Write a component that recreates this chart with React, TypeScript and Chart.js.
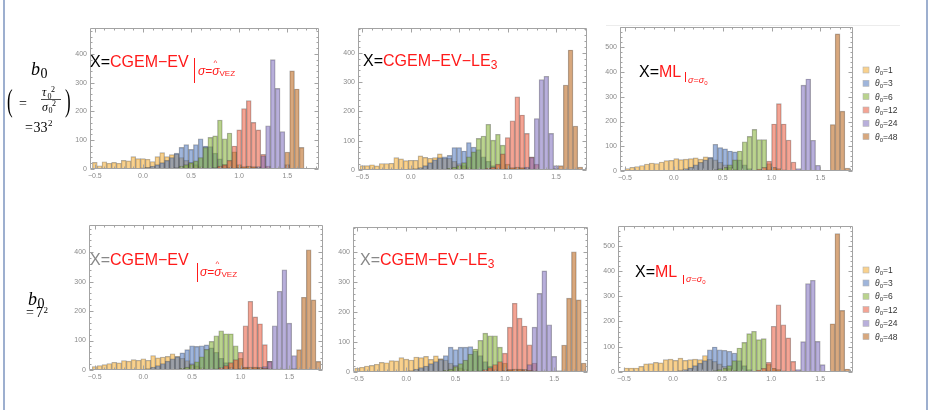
import React, { useEffect, useRef } from 'react';
import { Chart, registerables } from 'chart.js';
Chart.register(...registerables);

// ---------- data ----------
const BIN_WIDTH = 0.05;
const SERIES_NAMES = ['1', '3', '6', '12', '24', '48'];
const X_TICKS = [-0.5, 0, 0.5, 1, 1.5];
const Y_TICKS_400 = [0, 100, 200, 300, 400];
const Y_TICKS_500 = [0, 100, 200, 300, 400, 500];

// Panel 1: X = CGEM-EV, b0 = 33^2   (first bin centre of each series)
const P1_START = [-0.5, -0.05, 0.3, 0.7, 1.0, 0.95];
const P1_T1 = [23, 11, 25, 20, 23, 20, 30, 28, 43, 36, 36, 34, 26, 43, 57, 43, 50, 52, 40, 30, 22, 15, 8, 4];
const P1_T3 = [2, 4, 6, 10, 15, 22, 30, 40, 55, 75, 85, 68, 85, 105, 80, 78, 55, 35, 15, 6, 2];
const P1_T6 = [3, 5, 10, 15, 22, 28, 40, 75, 110, 115, 170, 105, 125, 60, 15, 5];
const P1_T12 = [3, 5, 10, 15, 30, 80, 136, 210, 238, 162, 136, 51, 10];
const P1_T24 = [2, 2, 3, 5, 8, 46, 150, 380, 280, 130, 15];
const P1_T48 = [3, 5, 8, 10, 8, 5, 3, 3, 2, 2, 3, 59, 341, 278, 75];

// Panel 2: X = CGEM-EV-LE3, b0 = 33^2
const P2_START = [-0.5, -0.05, 0.35, 0.75, 1.0, 0.95];
const P2_T1 = [15, 15, 18, 14, 22, 22, 23, 42, 38, 32, 33, 33, 48, 43, 40, 42, 55, 40, 40, 30, 22, 15, 8, 4];
const P2_T3 = [2, 4, 5, 8, 15, 25, 35, 42, 45, 50, 77, 77, 65, 94, 78, 70, 45, 30, 15, 6, 2];
const P2_T6 = [3, 6, 10, 15, 25, 45, 62, 108, 116, 156, 102, 122, 85, 20, 5];
const P2_T12 = [3, 6, 10, 20, 55, 111, 168, 250, 188, 125, 45, 20];
const P2_T24 = [2, 2, 3, 5, 10, 43, 176, 309, 320, 125, 15];
const P2_T48 = [3, 5, 8, 10, 8, 5, 3, 3, 2, 2, 3, 5, 15, 290, 410, 150, 10];

// Panel 3: X = ML, b0 = 33^2
const P3_START = [-0.475, 0.025, 0.375, 0.825, 1.275, 0.975];
const P3_T1 = [10, 15, 18, 22, 28, 32, 30, 36, 42, 43, 50, 46, 48, 50, 53, 48, 57, 52, 45, 35, 25, 15, 8, 3];
const P3_T3 = [3, 6, 10, 16, 25, 35, 45, 55, 108, 95, 90, 81, 77, 45, 25, 10, 3];
const P3_T6 = [3, 6, 10, 15, 25, 45, 81, 118, 140, 168, 127, 127, 30, 5];
const P3_T12 = [3, 8, 15, 40, 190, 272, 190, 125, 36, 5];
const P3_T24 = [10, 347, 372, 124, 23];
const P3_T48 = [5, 15, 10, 5, 3, 2, 2, 2, 2, 2, 2, 3, 3, 188, 554, 242, 12];

// Panel 4: X = CGEM-EV, b0 = 7^2
const P4_START = [-0.5, -0.05, 0.35, 0.75, 1.0, 0.95];
const P4_T1 = [12, 15, 18, 22, 26, 24, 32, 30, 35, 33, 38, 33, 49, 41, 44, 46, 55, 46, 40, 32, 22, 14, 8, 4];
const P4_T3 = [2, 3, 5, 10, 15, 22, 30, 38, 45, 58, 69, 82, 80, 82, 85, 75, 60, 40, 25, 10, 3];
const P4_T6 = [3, 6, 10, 18, 28, 45, 70, 97, 116, 133, 123, 123, 82, 40, 10];
const P4_T12 = [4, 8, 15, 25, 35, 60, 150, 233, 180, 157, 86, 29];
const P4_T24 = [2, 3, 3, 5, 8, 12, 29, 150, 267, 340, 159, 49];
const P4_T48 = [3, 5, 8, 10, 10, 8, 6, 4, 3, 3, 3, 3, 5, 69, 247, 408, 238, 29];

// Panel 5: X = CGEM-EV-LE3, b0 = 7^2
const P5_START = [-0.5, -0.05, 0.35, 0.75, 1.0, 0.95];
const P5_T1 = [13, 16, 20, 22, 26, 32, 31, 38, 37, 48, 43, 40, 50, 48, 52, 42, 54, 45, 40, 30, 22, 14, 8, 4];
const P5_T3 = [2, 3, 5, 10, 15, 20, 28, 35, 42, 55, 83, 75, 83, 83, 85, 70, 55, 35, 20, 8, 3];
const P5_T6 = [3, 6, 10, 18, 28, 40, 60, 77, 106, 130, 121, 121, 83, 30, 8];
const P5_T12 = [4, 8, 15, 25, 35, 63, 150, 230, 180, 154, 91, 30];
const P5_T24 = [2, 3, 3, 5, 8, 25, 150, 263, 338, 158, 52];
const P5_T48 = [3, 5, 8, 10, 10, 8, 6, 4, 3, 3, 3, 3, 5, 90, 247, 402, 241, 30];

// Panel 6: X = ML, b0 = 7^2
const P6_START = [-0.475, 0.025, 0.375, 0.825, 1.225, 0.975];
const P6_T1 = [16, 16, 16, 22, 32, 33, 38, 36, 49, 51, 46, 55, 46, 49, 51, 49, 65, 50, 42, 32, 22, 14, 7, 3];
const P6_T3 = [3, 6, 10, 16, 25, 35, 45, 88, 99, 88, 86, 82, 75, 45, 25, 10, 3];
const P6_T6 = [3, 6, 10, 15, 25, 45, 95, 117, 152, 161, 128, 132, 30, 5];
const P6_T12 = [3, 8, 15, 38, 181, 266, 187, 135, 42, 5];
const P6_T24 = [5, 10, 120, 350, 363, 121, 29];
const P6_T48 = [5, 15, 10, 5, 3, 2, 2, 2, 2, 2, 2, 3, 3, 191, 548, 244, 12];

// ---------- styles ----------
const FILL = [
  'rgba(245,178,65,0.6)',
  'rgba(80,120,190,0.55)',
  'rgba(130,175,50,0.55)',
  'rgba(235,90,60,0.55)',
  'rgba(125,110,190,0.55)',
  'rgba(190,110,40,0.6)',
];
const EDGE = 'rgba(55,55,55,0.42)';
const FRAME_COLOR = '#a3a3a3';
const TICK_TEXT = '#8a8a8a';
const SANS = '"Liberation Sans", Arial, sans-serif';
const SERIF = '"Liberation Serif", "Times New Roman", serif';
const YW = 28;
const XH = 16;

type PanelCfg = {
  L: number; R: number; T: number; B: number;
  xMin: number; xMax: number; yMax: number; yTicks: number[];
  starts: number[]; series: number[][];
};

const PANELS: PanelCfg[] = [
  { L: 90, R: 319, T: 28, B: 169, xMin: -0.55, xMax: 1.83, yMax: 490, yTicks: Y_TICKS_400, starts: P1_START, series: [P1_T1, P1_T3, P1_T6, P1_T12, P1_T24, P1_T48] },
  { L: 358, R: 587, T: 28, B: 170, xMin: -0.545, xMax: 1.82, yMax: 485, yTicks: Y_TICKS_400, starts: P2_START, series: [P2_T1, P2_T3, P2_T6, P2_T12, P2_T24, P2_T48] },
  { L: 620, R: 853, T: 27, B: 171, xMin: -0.55, xMax: 1.833, yMax: 582, yTicks: Y_TICKS_500, starts: P3_START, series: [P3_T1, P3_T3, P3_T6, P3_T12, P3_T24, P3_T48] },
  { L: 89, R: 323, T: 225, B: 370, xMin: -0.559, xMax: 1.847, yMax: 492, yTicks: Y_TICKS_400, starts: P4_START, series: [P4_T1, P4_T3, P4_T6, P4_T12, P4_T24, P4_T48] },
  { L: 353, R: 588, T: 227, B: 372, xMin: -0.541, xMax: 1.843, yMax: 485, yTicks: Y_TICKS_400, starts: P5_START, series: [P5_T1, P5_T3, P5_T6, P5_T12, P5_T24, P5_T48] },
  { L: 618, R: 853, T: 226, B: 372, xMin: -0.561, xMax: 1.834, yMax: 578, yTicks: Y_TICKS_500, starts: P6_START, series: [P6_T1, P6_T3, P6_T6, P6_T12, P6_T24, P6_T48] },
];

const round3 = (v: number) => Math.round(v * 1000) / 1000;
const fmtX = (v: number) => (v < 0 ? '\u2212' + Math.abs(v).toFixed(1) : v.toFixed(1));
const zeroPad = (s: any) => { s.paddingTop = 0; s.paddingBottom = 0; s.paddingLeft = 0; s.paddingRight = 0; };

const framePlugin = {
  id: 'mmaFrame',
  afterDatasetsDraw(chart: any) {
    const { ctx, chartArea: a, scales } = chart;
    const xs = scales.x;
    const ys = scales.y;
    ctx.save();
    ctx.strokeStyle = FRAME_COLOR;
    ctx.lineWidth = 1;
    const l = Math.round(a.left) + 0.5;
    const r = Math.round(a.right) - 0.5;
    const t = Math.round(a.top) + 0.5;
    const b = Math.round(a.bottom) - 0.5;
    ctx.beginPath();
    ctx.rect(l, t, r - l, b - t);
    const i0 = Math.ceil(xs.min / 0.1 - 1e-9);
    const i1 = Math.floor(xs.max / 0.1 + 1e-9);
    for (let i = i0; i <= i1; i++) {
      const px = Math.round(xs.getPixelForValue(i * 0.1)) + 0.5;
      const len = i % 5 === 0 ? 4 : 2;
      ctx.moveTo(px, b); ctx.lineTo(px, b - len);
      ctx.moveTo(px, t); ctx.lineTo(px, t + len);
    }
    for (let k = 0; k * 20 <= ys.max; k++) {
      const py = Math.round(ys.getPixelForValue(k * 20)) + 0.5;
      const len = k % 5 === 0 ? 4 : 2;
      ctx.moveTo(l, py); ctx.lineTo(l + len, py);
      ctx.moveTo(r, py); ctx.lineTo(r - len, py);
    }
    ctx.stroke();
    ctx.restore();
  },
};

function Panel({ cfg }: { cfg: PanelCfg }) {
  const ref = useRef<HTMLCanvasElement>(null);
  const w = cfg.R - cfg.L + YW;
  const h = cfg.B - cfg.T + XH;
  useEffect(() => {
    const datasets = cfg.series.map((counts, i) => ({
      label: '\u03b80=' + SERIES_NAMES[i],
      data: counts.map((c, j) => ({ x: round3(cfg.starts[i] + j * BIN_WIDTH), y: c })),
      backgroundColor: FILL[i],
      borderColor: EDGE,
      borderWidth: 0.7,
      barPercentage: 1,
      categoryPercentage: 1,
      grouped: false,
      order: 5 - i,
    }));
    const chart = new Chart(ref.current as HTMLCanvasElement, {
      type: 'bar',
      data: { datasets } as any,
      plugins: [framePlugin],
      options: {
        animation: false,
        responsive: false,
        maintainAspectRatio: false,
        layout: { padding: 0 },
        plugins: { legend: { display: false }, tooltip: { enabled: false } },
        scales: {
          x: {
            type: 'linear',
            offset: false,
            min: cfg.xMin,
            max: cfg.xMax,
            grid: { display: false, drawTicks: false },
            border: { display: false },
            afterBuildTicks: (s: any) => { s.ticks = X_TICKS.map((v) => ({ value: v })); },
            afterFit: (s: any) => { s.height = XH; zeroPad(s); },
            ticks: {
              padding: 3, autoSkip: false, maxRotation: 0,
              color: TICK_TEXT, font: { size: 7, family: SANS },
              callback: (v: any) => fmtX(Number(v)),
            },
          },
          y: {
            type: 'linear',
            min: 0,
            max: cfg.yMax,
            grid: { display: false, drawTicks: false },
            border: { display: false },
            afterBuildTicks: (s: any) => { s.ticks = cfg.yTicks.map((v) => ({ value: v })); },
            afterFit: (s: any) => { s.width = YW; zeroPad(s); },
            ticks: {
              padding: 3, autoSkip: false,
              color: TICK_TEXT, font: { size: 7, family: SANS },
              callback: (v: any) => String(v),
            },
          },
        },
      } as any,
    });
    return () => chart.destroy();
  }, []);
  return (
    <canvas
      ref={ref}
      width={w}
      height={h}
      style={{ position: 'absolute', left: cfg.L - YW, top: cfg.T, width: w, height: h }}
    />
  );
}

function Legend({ rows }: { rows: number[] }) {
  return (
    <g>
      {rows.map((cy, i) => (
        <g key={i}>
          <rect x={863} y={cy - 3} width={6} height={6} fill={FILL[i]} stroke="#b5b5b5" strokeWidth={0.6} />
          <text x={875} y={cy + 3} fontSize={8.5} fill="#333" fontFamily={SANS}>
            <tspan fontStyle="italic">{'\u03b8'}</tspan>
            <tspan fontSize={6} dy={2}>0</tspan>
            <tspan dy={-2}>{'=' + SERIES_NAMES[i]}</tspan>
          </text>
        </g>
      ))}
    </g>
  );
}

const RED = '#ff1a1a';

export default function App() {
  return (
    <div style={{ position: 'fixed', left: 0, top: 0, width: 939, height: 410, background: '#fff', overflow: 'hidden' }}>
      {PANELS.map((p, i) => <Panel key={i} cfg={p} />)}
      <svg width={939} height={410} style={{ position: 'absolute', left: 0, top: 0, pointerEvents: 'none' }}>
        {/* notebook cell bracket lines */}
        <line x1={4} y1={0} x2={4} y2={410} stroke="#7c94bf" strokeWidth={1.5} />
        <line x1={927} y1={0} x2={927} y2={410} stroke="#7c94bf" strokeWidth={1.5} />
        <line x1={606} y1={25.5} x2={900} y2={25.5} stroke="#ececec" strokeWidth={1} />

        {/* left labels, top row */}
        <g fontFamily={SERIF} fill="#000">
          <text x={31} y={75} fontSize={18} fontStyle="italic">b</text>
          <text x={40.5} y={78} fontSize={14}>0</text>
          <text transform="translate(7,110.5) scale(1,1.9)" fontSize={17}>(</text>
          <text x={19} y={107.5} fontSize={14}>=</text>
          <text x={42} y={96} fontSize={12} fontStyle="italic">{'\u03c4'}</text>
          <text x={47.5} y={98.5} fontSize={8}>0</text>
          <text x={51} y={92} fontSize={8}>2</text>
          <line x1={41} y1={99.5} x2={61} y2={99.5} stroke="#000" strokeWidth={0.7} />
          <text x={42} y={110.5} fontSize={12} fontStyle="italic">{'\u03c3'}</text>
          <text x={48.5} y={113} fontSize={8}>0</text>
          <text x={52} y={106} fontSize={8}>2</text>
          <text transform="translate(65,110.5) scale(1,1.9)" fontSize={17}>)</text>
          <text x={25} y={132} fontSize={14}>=</text>
          <text x={33.5} y={132} fontSize={14}>33</text>
          <text x={48} y={125.5} fontSize={9}>2</text>

          {/* bottom row */}
          <text x={28} y={305} fontSize={18} fontStyle="italic">b</text>
          <text x={37.5} y={308} fontSize={14}>0</text>
          <text x={26} y={317} fontSize={14}>=</text>
          <text x={36} y={317} fontSize={14}>7</text>
          <text x={43.5} y={312.5} fontSize={9}>2</text>
        </g>

        {/* panel titles */}
        <g fontFamily={SANS}>
          <text x={90} y={66.5} fontSize={16}><tspan fill="#000">X=</tspan><tspan fill={RED}>CGEM{'\u2212'}EV</tspan></text>
          <line x1={194.5} y1={58} x2={194.5} y2={83} stroke={RED} strokeWidth={1} />
          <text x={198} y={75} fontSize={12} fill={RED}><tspan fontStyle="italic">{'\u03c3'}</tspan>=<tspan fontStyle="italic">{'\u03c3'}</tspan><tspan fontSize={8} dy={1}>VEZ</tspan></text>
          <text x={213.5} y={65} fontSize={8} fill={RED}>^</text>

          <text x={363} y={66} fontSize={16}><tspan fill="#000">X=</tspan><tspan fill={RED}>CGEM{'\u2212'}EV{'\u2212'}LE</tspan><tspan fill={RED} fontSize={12} dy={3}>3</tspan></text>

          <text x={639} y={77} fontSize={16}><tspan fill="#000">X=</tspan><tspan fill={RED}>ML</tspan></text>
          <line x1={685.5} y1={72} x2={685.5} y2={82} stroke={RED} strokeWidth={1} />
          <text x={688} y={83} fontSize={9} fill={RED}><tspan fontStyle="italic">{'\u03c3'}</tspan>=<tspan fontStyle="italic">{'\u03c3'}</tspan><tspan fontSize={6} dy={1.5}>0</tspan></text>

          <text x={90} y={265} fontSize={16}><tspan fill="#888">X=</tspan><tspan fill={RED}>CGEM{'\u2212'}EV</tspan></text>
          <line x1={197.5} y1={263} x2={197.5} y2={282} stroke={RED} strokeWidth={1} />
          <text x={200} y={276} fontSize={12} fill={RED}><tspan fontStyle="italic">{'\u03c3'}</tspan>=<tspan fontStyle="italic">{'\u03c3'}</tspan><tspan fontSize={8} dy={1}>VEZ</tspan></text>
          <text x={215.5} y={266} fontSize={8} fill={RED}>^</text>

          <text x={360} y={265} fontSize={16}><tspan fill="#888">X=</tspan><tspan fill={RED}>CGEM{'\u2212'}EV{'\u2212'}LE</tspan><tspan fill={RED} fontSize={12} dy={3}>3</tspan></text>

          <text x={635} y={277} fontSize={16}><tspan fill="#000">X=</tspan><tspan fill={RED}>ML</tspan></text>
          <line x1={683.5} y1={275} x2={683.5} y2={284} stroke={RED} strokeWidth={1} />
          <text x={686} y={282} fontSize={9} fill={RED}><tspan fontStyle="italic">{'\u03c3'}</tspan>=<tspan fontStyle="italic">{'\u03c3'}</tspan><tspan fontSize={6} dy={1.5}>0</tspan></text>
        </g>

        <Legend rows={[70, 83.3, 96.6, 110, 123.3, 136.6]} />
        <Legend rows={[270, 283, 296.3, 309.6, 323.3, 336.6]} />
      </svg>
    </div>
  );
}
